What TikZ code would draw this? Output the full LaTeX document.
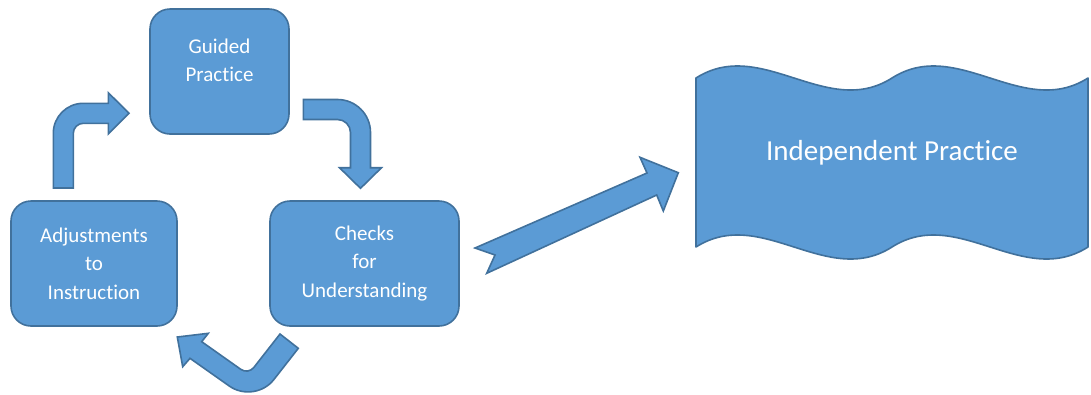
\documentclass[tikz,border=0pt]{standalone}
\usepackage{fontspec}
\setmainfont{Carlito}[Ligatures=NoCommon]
\usetikzlibrary{positioning}

\definecolor{boxblue}{HTML}{5B9BD5}
\definecolor{edgeblue}{HTML}{41719C}

\tikzset{
  stagebox/.style={draw=edgeblue, fill=boxblue, line width=1.2pt, rounded corners=15pt,
    text=white, align=center, inner sep=0pt, minimum height=93.75pt,
    font=\fontsize{15.75pt}{21.5pt}\selectfont},
  blockarrow/.style={draw=edgeblue, fill=boxblue, line width=1.2pt, line join=miter}
}

\begin{document}
\begin{tikzpicture}[x=0.75pt, y=-0.75pt]
\useasboundingbox (0,0) rectangle (1091,394);

% Draw the three stages of the loop
\node[stagebox, minimum width=104.25pt, text depth=17pt] (guided) at (219.5,71.5) {Guided\\Practice};
\node[stagebox, minimum width=124.5pt] (adjust) at (94,263.5) {Adjustments\\to\\Instruction};
\node[stagebox, minimum width=141.75pt] (checks) at (364.5,263.5) {Checks\\for\\Understanding};

% Draw bent arrows between the stages
\draw[blockarrow] (53.3,188) -- (53.3,133.3) .. controls (53.3,116.7) and (66.7,103.3) .. (83.3,103.3)
  -- (108.3,103.3) -- (108.3,92.7) -- (129,113.3) -- (108.3,133.9) -- (108.3,123.3) -- (83.3,123.3)
  .. controls (77.8,123.3) and (73.3,127.8) .. (73.3,133.3) -- (73.3,188) -- cycle;
\draw[blockarrow] (303.3,99.5) -- (337.5,99.5) .. controls (355.7,99.5) and (370.5,114.3) .. (370.5,132.5)
  -- (370.5,167.7) -- (381.5,167.7) -- (360.5,188.3) -- (339.5,167.7) -- (350.5,167.7) -- (350.5,132.5)
  .. controls (350.5,125.3) and (344.7,119.5) .. (337.5,119.5) -- (303.3,119.5) -- cycle;
\draw[blockarrow] (280,334) -- (298.3,348.3) -- (273.9,379.5) .. controls (263.4,393) and (243.4,395.9) .. (229.4,386.1)
  -- (190,358.3) -- (182.7,366.7) -- (177.3,337) -- (208.3,333.3) -- (201.7,341.7) -- (240.9,369.4)
  .. controls (245,372.3) and (250.7,371.4) .. (253.8,367.5) -- cycle;

% Draw notched arrow to the wave
\draw[blockarrow] (475,248) -- (647,173) -- (640,157.3) -- (678.3,172.7) -- (663.3,211)
  -- (656.7,195) -- (486.7,273.3) -- (495,255) -- cycle;

% Draw the wave and its label
\draw[blockarrow, line join=round] (696,78) .. controls (761.3,36.4) and (826.7,119.6) .. (892,78)
  .. controls (957.3,36.4) and (1022.7,119.6) .. (1088,78) -- (1088,247)
  .. controls (1022.7,288.6) and (957.3,205.4) .. (892,247)
  .. controls (826.7,288.6) and (761.3,205.4) .. (696,247) -- cycle;
\node[text=white, anchor=base, font=\fontsize{21.75pt}{26pt}\selectfont] (indep) at (892,160.7) {Independent Practice};

\end{tikzpicture}
\end{document}
